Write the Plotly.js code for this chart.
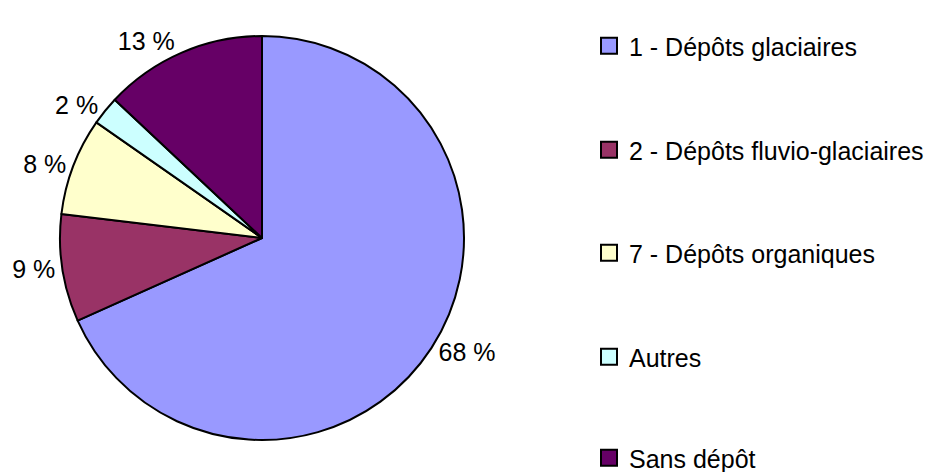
<!DOCTYPE html>
<html>
<head>
<meta charset="utf-8">
<script src="https://cdn.plot.ly/plotly-3.0.1.min.js"></script>
<style>html,body{margin:0;padding:0;background:#fff;}#chart{width:930px;height:472px;}</style>
</head>
<body>
<div id="chart"></div>
<script>
var categories = ["1 - Dépôts glaciaires", "2 - Dépôts fluvio-glaciaires", "7 - Dépôts organiques", "Autres", "Sans dépôt"];
var shares = [68.3, 8.6, 7.8, 2.3, 13.0];
var colors = ["#9999FF", "#993366", "#FFFFCC", "#CCFFFF", "#660066"];

var total = shares.reduce(function(a, b){ return a + b; }, 0);
var labelsText = shares.map(function(v){ return Math.round(v / total * 100) + " %"; });

var FONT = "Liberation Sans, Arial, sans-serif";
var W = 930, H = 472;
var legendCenters = [46, 150, 253, 357, 458];

var traces = [{
  type: "pie",
  labels: categories,
  values: shares,
  text: labelsText,
  textinfo: "text",
  textposition: "outside",
  textfont: {family: FONT, size: 25, color: "#000"},
  outsidetextfont: {family: FONT, size: 25, color: "#000"},
  sort: false,
  direction: "clockwise",
  rotation: 0,
  marker: {colors: colors, line: {color: "#000", width: 2}},
  domain: {x: [60/W, 464/W], y: [0, 1]},
  showlegend: false,
  hoverinfo: "label+percent"
}];

var layout = {
  width: W, height: H,
  margin: {l: 0, r: 0, t: 36, b: 32, autoexpand: false},
  paper_bgcolor: "#fff",
  plot_bgcolor: "rgba(0,0,0,0)",
  xaxis: {visible: false},
  yaxis: {visible: false},
  showlegend: true
};

categories.forEach(function(c, i){
  var key = i === 0 ? "legend" : "legend" + (i + 1);
  traces.push({
    type: "scatter",
    mode: "markers",
    x: [null], y: [null],
    name: c,
    legend: key,
    marker: {symbol: "square", size: 20, color: colors[i], line: {color: "#000", width: 2}},
    showlegend: true,
    hoverinfo: "skip"
  });
  layout[key] = {
    xref: "container", yref: "container",
    x: 589/W, xanchor: "left",
    y: 1 - legendCenters[i] / H, yanchor: "middle",
    font: {family: FONT, size: 25, color: "#000"},
    itemclick: false, itemdoubleclick: false,
    bgcolor: "rgba(0,0,0,0)"
  };
});

Plotly.newPlot("chart", traces, layout, {displayModeBar: false, staticPlot: true});
</script>
</body>
</html>
